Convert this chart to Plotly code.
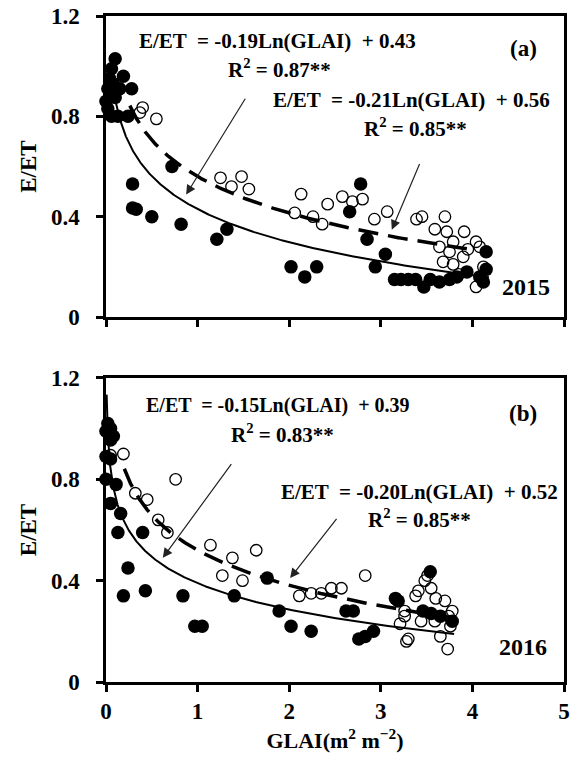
import numpy as np
import plotly.graph_objects as go

# ---------------- data ----------------
# 2015 (panel a)
a_filled_x = [0.10, 0.06, 0.02, 0.15, 0.28, 0.10, 0.02, 0.13, 0.24, 0.06, 0.00, 0.19, 0.04, 0.08,
              0.72, 0.29, 0.29, 0.33, 0.50, 0.82, 1.32, 1.21,
              2.78, 2.66, 2.85, 3.05, 2.94, 2.02, 2.17, 2.30,
              3.15, 3.22, 3.30, 3.38,
              3.47, 3.64, 4.15, 4.15, 4.08, 3.54, 3.83, 3.94, 3.75, 4.12]
a_filled_y = [1.03, 0.99, 0.91, 0.91, 0.91, 0.875, 0.83, 0.80, 0.80, 0.80, 0.86, 0.96, 0.95, 0.93,
              0.60, 0.53, 0.435, 0.43, 0.40, 0.37, 0.35, 0.31,
              0.53, 0.42, 0.31, 0.25, 0.20, 0.20, 0.16, 0.20,
              0.15, 0.15, 0.15, 0.15,
              0.12, 0.14, 0.26, 0.19, 0.16, 0.15, 0.16, 0.18, 0.15, 0.14]
a_open_x = [0.40, 0.55, 0.37, 1.25, 1.37, 1.48, 1.56,
            2.13, 2.06, 2.26, 2.36, 2.42, 2.58, 2.69, 2.80, 2.93, 3.07, 3.39,
            3.45, 3.70, 3.59, 3.72, 3.91, 3.79, 4.04, 3.75, 3.90, 4.08, 3.79, 4.04, 4.12, 3.85,
            3.64, 3.95, 3.68]
a_open_y = [0.835, 0.79, 0.815, 0.555, 0.52, 0.56, 0.51,
            0.49, 0.415, 0.40, 0.37, 0.45, 0.48, 0.46, 0.47, 0.39, 0.42, 0.39,
            0.40, 0.40, 0.35, 0.34, 0.34, 0.30, 0.30, 0.26, 0.24, 0.28, 0.21, 0.12, 0.20, 0.17,
            0.28, 0.27, 0.22]

# 2016 (panel b)
b_filled_x = [0.02, 0.05, 0.00, 0.05, 0.08, 0.00, 0.05, 0.00, 0.11, 0.05, 0.16, 0.13, 0.40, 0.24,
              0.19, 0.43, 0.84, 0.97, 1.05, 1.40,
              1.76, 1.89, 2.02, 2.24, 2.62, 2.70, 2.76, 2.83, 2.92, 3.16,
              3.54, 3.19, 3.46, 3.65, 3.78, 3.55]
b_filled_y = [1.02, 1.00, 0.99, 0.955, 0.97, 0.89, 0.88, 0.80, 0.78, 0.705, 0.665, 0.59, 0.59, 0.45,
              0.34, 0.36, 0.34, 0.22, 0.22, 0.34,
              0.41, 0.28, 0.22, 0.20, 0.28, 0.28, 0.17, 0.18, 0.20, 0.33,
              0.435, 0.32, 0.28, 0.26, 0.24, 0.27]
b_open_x = [0.05, 0.19, 0.76, 0.32, 0.45, 0.57, 0.67, 1.14, 1.64, 1.38, 1.27, 1.49,
            2.83, 2.11, 2.24, 2.35, 2.46, 2.57, 3.26, 3.21, 3.28, 3.38,
            3.51, 3.48, 3.41, 3.55, 3.70, 3.78, 3.26, 3.44, 3.30, 3.65, 3.73, 3.76, 3.59,
            3.60, 3.74]
b_open_y = [0.895, 0.90, 0.80, 0.745, 0.72, 0.64, 0.59, 0.54, 0.52, 0.49, 0.42, 0.40,
            0.42, 0.34, 0.35, 0.35, 0.37, 0.37, 0.26, 0.23, 0.16, 0.34,
            0.42, 0.40, 0.36, 0.37, 0.32, 0.28, 0.28, 0.24, 0.17, 0.18, 0.13, 0.22, 0.24,
            0.33, 0.26]

# regression coefficients shown in the chart: y = a*ln(x) + b, fitted over [x0, x1]
fits_a = [(-0.19, 0.43, 0.10, 4.18), (-0.21, 0.56, 0.26, 3.97)]
fits_b = [(-0.15, 0.39, 0.007, 3.80), (-0.20, 0.52, 0.20, 3.80)]

x_ticks = [0, 1, 2, 3, 4, 5]
y_ticks = [0, 0.4, 0.8, 1.2]

FONT = "Liberation Serif"

fig = go.Figure()

def add_panel(fx, fy, ox, oy, fits, xa, ya):
    fig.add_trace(go.Scatter(x=fx, y=fy, mode="markers", xaxis=xa, yaxis=ya,
                             marker=dict(symbol="circle", size=13.5, color="black"),
                             cliponaxis=False, showlegend=False))
    fig.add_trace(go.Scatter(x=ox, y=oy, mode="markers", xaxis=xa, yaxis=ya,
                             marker=dict(symbol="circle-open", size=11.5, color="black",
                                         line=dict(width=1.3, color="black")),
                             cliponaxis=False, showlegend=False))
    (a1, b1, s1, e1), (a2, b2, s2, e2) = fits
    xs = np.geomspace(s1, e1, 300)
    fig.add_trace(go.Scatter(x=xs, y=a1 * np.log(xs) + b1, mode="lines", xaxis=xa, yaxis=ya,
                             line=dict(color="black", width=2), showlegend=False))
    xd = np.geomspace(s2, e2, 300)
    fig.add_trace(go.Scatter(x=xd, y=a2 * np.log(xd) + b2, mode="lines", xaxis=xa, yaxis=ya,
                             line=dict(color="black", width=3.5, dash="20px,10px"), showlegend=False))

add_panel(a_filled_x, a_filled_y, a_open_x, a_open_y, fits_a, "x", "y")
add_panel(b_filled_x, b_filled_y, b_open_x, b_open_y, fits_b, "x2", "y2")

TICKF = dict(family=FONT, size=23, color="black", weight="bold")
axis_common = dict(range=[0, 5], showline=True, linewidth=2.5, linecolor="black", mirror=True,
                   ticks="outside", ticklen=7, tickwidth=2.5, tickcolor="black",
                   showgrid=False, zeroline=False, tickvals=x_ticks, tickfont=TICKF)
yaxis_common = dict(range=[0, 1.2], showline=True, linewidth=2.5, linecolor="black", mirror=True,
                    ticks="outside", ticklen=7, tickwidth=2.5, tickcolor="black",
                    showgrid=False, zeroline=False, tickvals=y_ticks,
                    ticktext=[("%g" % v) for v in y_ticks], tickfont=TICKF,
                    ticklabelstandoff=12,
                    title=dict(text="E/ET", font=dict(family=FONT, size=23, color="black", weight="bold"),
                               standoff=8))

fig.update_layout(
    width=573, height=764,
    margin=dict(l=106, r=3, t=16, b=82),
    plot_bgcolor="white", paper_bgcolor="white",
    xaxis=dict(axis_common, domain=[0, 1], anchor="y", showticklabels=False),
    yaxis=dict(yaxis_common, domain=[0.548, 1], anchor="x"),
    xaxis2=dict(axis_common, domain=[0, 1], anchor="y2", ticklabelstandoff=0,
                title=dict(text="GLAI(m<sup>2</sup> m<sup>\u22122</sup>)",
                           font=dict(family=FONT, size=22, color="black", weight="bold"),
                           standoff=10)),
    yaxis2=dict(yaxis_common, domain=[0, 0.4565], anchor="x2"),
)

tf = dict(family=FONT, size=21, color="black", weight="bold")
NB = "\u00a0"

def txt(text, x, y, xr, yr, size=21):
    fig.add_annotation(text=text, x=x, y=y, xref=xr, yref=yr, showarrow=False,
                       font=dict(tf, size=size), xanchor="center", yanchor="middle")

def arrow(x, y, ax, ay, xr, yr):
    fig.add_annotation(x=x, y=y, ax=ax, ay=ay, xref=xr, yref=yr, axref=xr, ayref=yr,
                       text="", showarrow=True, arrowhead=2, arrowsize=1.6, arrowwidth=1.2,
                       arrowcolor="#222")

# panel a
txt("E/ET " + NB + "= -0.19Ln(GLAI) " + NB + "+ 0.43", 1.87, 1.10, "x", "y")
txt("R<sup>2</sup> = 0.87**", 1.89, 0.99, "x", "y")
txt("E/ET " + NB + "= -0.21Ln(GLAI) " + NB + "+ 0.56", 3.34, 0.866, "x", "y")
txt("R<sup>2</sup> = 0.85**", 3.38, 0.755, "x", "y")
txt("(a)", 4.56, 1.07, "x", "y", 23)
txt("2015", 4.59, 0.12, "x", "y", 24)
arrow(0.875, 0.488, 1.53, 0.876, "x", "y")
arrow(3.12, 0.348, 3.43, 0.616, "x", "y")

# panel b
txt("E/ET " + NB + "= -0.15Ln(GLAI) " + NB + "+ 0.39", 1.88, 1.09, "x2", "y2", 20)
txt("R<sup>2</sup> = 0.83**", 1.93, 0.98, "x2", "y2")
txt("E/ET " + NB + "= -0.20Ln(GLAI) " + NB + "+ 0.52", 3.42, 0.75, "x2", "y2")
txt("R<sup>2</sup> = 0.85**", 3.42, 0.645, "x2", "y2")
txt("(b)", 4.55, 1.06, "x2", "y2", 23)
txt("2016", 4.55, 0.14, "x2", "y2", 24)
arrow(0.62, 0.49, 1.38, 0.866, "x2", "y2")
arrow(2.01, 0.41, 2.53, 0.65, "x2", "y2")

fig.write_html("out.html")
